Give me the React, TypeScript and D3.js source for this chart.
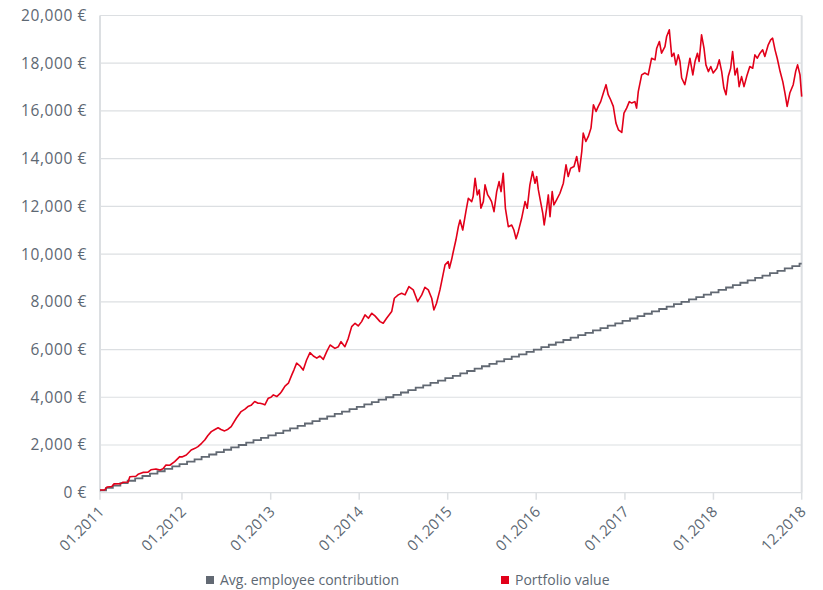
import React from "react";
import * as d3 from "d3";

const yTickValues = [0, 2000, 4000, 6000, 8000, 10000, 12000, 14000, 16000, 18000, 20000];
const xTickDates = ["2011-01-28", "2012-01-01", "2013-01-01", "2014-01-01", "2015-01-01", "2016-01-01", "2017-01-01", "2018-01-01", "2018-12-31"];
const xTickLabels = ["01.2011", "01.2012", "01.2013", "01.2014", "01.2015", "01.2016", "01.2017", "01.2018", "12.2018"];
const seriesNames = ["Avg. employee contribution", "Portfolio value"];
const seriesColors = ["#626973", "#e2001a"];

const contributionStart = "2011-01-22";
const contributionValues = [
  100, 200, 300, 400, 500, 600, 700, 800, 900, 1000, 1100, 1200,
  1300, 1400, 1500, 1600, 1700, 1800, 1900, 2000, 2100, 2200, 2300, 2400,
  2500, 2600, 2700, 2800, 2900, 3000, 3100, 3200, 3300, 3400, 3500, 3600,
  3700, 3800, 3900, 4000, 4100, 4200, 4300, 4400, 4500, 4600, 4700, 4800,
  4900, 5000, 5100, 5200, 5300, 5400, 5500, 5600, 5700, 5800, 5900, 6000,
  6100, 6200, 6300, 6400, 6500, 6600, 6700, 6800, 6900, 7000, 7100, 7200,
  7300, 7400, 7500, 7600, 7700, 7800, 7900, 8000, 8100, 8200, 8300, 8400,
  8500, 8600, 8700, 8800, 8900, 9000, 9100, 9200, 9300, 9400, 9500, 9600,
];

const portfolioSeries: [string, number][] = [
  ["2011-01-28",110],["2011-02-17",120],["2011-02-26",240],["2011-03-18",260],["2011-03-27",370],["2011-04-24",380],["2011-05-03",440],["2011-05-24",450],["2011-05-31",670],["2011-06-25",690],["2011-07-04",770],["2011-07-24",850],["2011-08-14",860],["2011-08-26",960],["2011-09-16",990],["2011-10-03",950],["2011-10-15",1000],["2011-10-27",1160],["2011-11-12",1150],["2011-12-02",1300],["2011-12-23",1510],
  ["2012-01-01",1500],["2012-01-19",1580],["2012-02-08",1790],["2012-02-24",1860],["2012-03-07",1930],["2012-03-22",2070],["2012-04-04",2210],["2012-04-17",2400],["2012-05-01",2560],["2012-05-16",2650],["2012-05-29",2720],["2012-06-10",2650],["2012-06-25",2590],["2012-07-09",2660],["2012-07-22",2770],["2012-08-12",3120],["2012-09-01",3400],["2012-09-17",3500],["2012-09-29",3610],["2012-10-12",3660],["2012-10-27",3820],["2012-11-10",3750],["2012-11-18",3750],["2012-11-30",3720],["2012-12-08",3680],["2012-12-22",3960],
  ["2013-01-02",4000],["2013-01-12",4100],["2013-01-26",4030],["2013-02-08",4150],["2013-02-15",4240],["2013-03-01",4470],["2013-03-15",4590],["2013-03-29",4940],["2013-04-07",5150],["2013-04-18",5430],["2013-05-02",5310],["2013-05-15",5140],["2013-05-29",5560],["2013-06-12",5870],["2013-06-26",5730],["2013-07-10",5640],["2013-07-23",5730],["2013-08-06",5590],["2013-08-20",5910],["2013-09-03",6190],["2013-09-23",6050],["2013-10-07",6120],["2013-10-18",6330],["2013-11-03",6120],["2013-11-17",6470],["2013-12-01",6960],["2013-12-15",7100],["2013-12-28",6990],
  ["2014-01-11",7170],["2014-01-25",7450],["2014-02-08",7310],["2014-02-22",7520],["2014-03-07",7410],["2014-03-28",7170],["2014-04-10",7100],["2014-04-24",7310],["2014-05-15",7590],["2014-05-26",8150],["2014-06-11",8290],["2014-06-25",8360],["2014-07-09",8290],["2014-07-25",8640],["2014-08-12",8500],["2014-08-30",8010],["2014-09-16",8290],["2014-09-29",8610],["2014-10-13",8500],["2014-10-27",8150],["2014-11-05",7660],["2014-11-16",7940],["2014-11-30",8500],["2014-12-07",8850],["2014-12-21",9550],
  ["2015-01-03",9690],["2015-01-08",9410],["2015-01-17",9760],["2015-01-24",10100],["2015-02-04",10600],["2015-02-14",11150],["2015-02-21",11430],["2015-03-04",11010],["2015-03-17",11780],["2015-03-27",12340],["2015-04-10",12200],["2015-04-16",12410],["2015-04-24",13180],["2015-05-03",12480],["2015-05-11",12690],["2015-05-18",11920],["2015-05-28",12200],["2015-06-04",12900],["2015-06-15",12480],["2015-06-24",12340],["2015-07-01",12200],["2015-07-11",11780],["2015-07-22",12620],["2015-08-01",13040],["2015-08-09",12620],["2015-08-18",13390],["2015-08-27",11920],["2015-09-08",11150],["2015-09-22",11220],["2015-10-01",11010],["2015-10-10",10640],["2015-10-19",10940],["2015-11-02",11500],["2015-11-16",12200],["2015-11-25",11920],["2015-12-06",12900],["2015-12-17",13460],["2015-12-27",12970],
  ["2016-01-03",13250],["2016-01-10",12690],["2016-01-19",12200],["2016-01-28",11720],["2016-02-03",11220],["2016-02-13",11920],["2016-02-20",12480],["2016-02-27",11570],["2016-03-07",12620],["2016-03-14",12060],["2016-03-25",12270],["2016-04-08",12550],["2016-04-22",12970],["2016-05-03",13740],["2016-05-12",13250],["2016-05-22",13600],["2016-06-05",13670],["2016-06-16",14090],["2016-06-27",13460],["2016-07-07",14300],["2016-07-13",15070],["2016-07-24",14720],["2016-08-03",14930],["2016-08-14",15280],["2016-08-24",16260],["2016-09-04",15980],["2016-09-13",16190],["2016-09-23",16390],["2016-10-04",16750],["2016-10-15",17100],["2016-10-24",16680],["2016-11-03",16470],["2016-11-14",16190],["2016-11-25",15490],["2016-12-05",15210],["2016-12-19",15100],["2016-12-28",15910],
  ["2017-01-08",16120],["2017-01-19",16390],["2017-01-29",16330],["2017-02-11",16390],["2017-02-18",16120],["2017-02-25",16810],["2017-03-11",17510],["2017-03-24",17590],["2017-04-07",17510],["2017-04-21",18210],["2017-05-05",18140],["2017-05-12",18630],["2017-05-23",18910],["2017-06-01",18420],["2017-06-15",18700],["2017-06-22",19120],["2017-07-03",19400],["2017-07-13",18280],["2017-07-22",18420],["2017-07-30",17930],["2017-08-09",18350],["2017-08-16",18070],["2017-08-23",17380],["2017-09-05",17100],["2017-09-12",17440],["2017-09-26",18210],["2017-10-08",17510],["2017-10-17",18070],["2017-10-27",18420],["2017-11-03",18070],["2017-11-13",19190],["2017-11-23",18630],["2017-12-01",17930],["2017-12-11",17650],["2017-12-21",17860],["2017-12-31",17590],
  ["2018-01-15",17790],["2018-01-25",18140],["2018-02-04",17650],["2018-02-13",16960],["2018-02-22",16680],["2018-03-03",17440],["2018-03-13",17790],["2018-03-21",18490],["2018-03-31",17510],["2018-04-09",17790],["2018-04-17",17020],["2018-04-27",17440],["2018-05-07",17020],["2018-05-18",17440],["2018-05-31",17860],["2018-06-12",17790],["2018-06-21",18350],["2018-07-01",18210],["2018-07-12",18420],["2018-07-23",18560],["2018-08-01",18280],["2018-08-15",18770],["2018-08-25",18980],["2018-09-02",19050],["2018-09-12",18560],["2018-09-21",18210],["2018-10-03",17650],["2018-10-14",17230],["2018-10-23",16750],["2018-11-01",16190],["2018-11-12",16750],["2018-11-26",17100],["2018-12-06",17650],["2018-12-14",17930],["2018-12-24",17510],["2018-12-31",16600],
];

const W = 823;
const H = 590;
const plot = { left: 100, right: 801.7, top: 15.5, bottom: 492.7 };
const FONT = "'Open Sans', sans-serif";
const TEXT = "#5d6873";
const GRID = "#dcdfe2";

export default function App() {
  const parse = d3.timeParse("%Y-%m-%d");
  const tickDates = xTickDates.map((s) => parse(s) as Date);
  const x = d3
    .scaleTime()
    .domain([tickDates[0], tickDates[tickDates.length - 1]])
    .range([plot.left, plot.right])
    .clamp(true);
  const y = d3.scaleLinear().domain([0, 20000]).range([plot.bottom, plot.top]);

  const cStart = parse(contributionStart) as Date;
  const contribData: [Date, number][] = contributionValues.map((v, i) => [d3.timeMonth.offset(cStart, i), v]);
  contribData.push([x.domain()[1], contributionValues[contributionValues.length - 1]]);

  const portData: [Date, number][] = portfolioSeries.map(([d, v]) => [parse(d) as Date, v]);

  const stepLine = d3
    .line<[Date, number]>()
    .x((d) => x(d[0]))
    .y((d) => y(d[1]))
    .curve(d3.curveStepAfter);
  const line = d3
    .line<[Date, number]>()
    .x((d) => x(d[0]))
    .y((d) => y(d[1]));

  const fmt = d3.format(",");

  const legendItems = [
    { name: seriesNames[0], color: seriesColors[0], x: 206 },
    { name: seriesNames[1], color: seriesColors[1], x: 501 },
  ];

  return (
    <svg
      width={W}
      height={H}
      style={{ position: "absolute", left: 0, top: 0, background: "#fff" }}
      fontFamily={FONT}
    >
      {yTickValues.map((v) => (
        <line key={"g" + v} x1={plot.left} x2={plot.right} y1={y(v)} y2={y(v)} stroke={GRID} strokeWidth={1.2} />
      ))}
      <line x1={plot.left} x2={plot.left} y1={plot.top} y2={plot.bottom} stroke={GRID} strokeWidth={2} />
      <line x1={plot.right} x2={plot.right} y1={plot.top} y2={plot.bottom} stroke={GRID} strokeWidth={2} />
      {tickDates.map((d, i) => (
        <line key={"t" + i} x1={x(d)} x2={x(d)} y1={plot.bottom} y2={plot.bottom + 7} stroke={GRID} strokeWidth={1.5} />
      ))}
      {yTickValues.map((v) => (
        <text
          key={"yl" + v}
          x={87}
          y={y(v)}
          dy="0.35em"
          textAnchor="end"
          fontSize={15.5}
          letterSpacing={0.6}
          fill={TEXT}
        >
          {fmt(v) + " €"}
        </text>
      ))}
      {tickDates.map((d, i) => (
        <text
          key={"xl" + i}
          transform={`translate(${x(d) + 5},${plot.bottom + 20}) rotate(-45)`}
          textAnchor="end"
          fontSize={15}
          fill={TEXT}
        >
          {xTickLabels[i]}
        </text>
      ))}
      <path d={stepLine(contribData) || ""} fill="none" stroke={seriesColors[0]} strokeWidth={1.8} />
      <path d={line(portData) || ""} fill="none" stroke={seriesColors[1]} strokeWidth={1.6} strokeLinejoin="round" />
      {legendItems.map((it) => (
        <g key={it.name}>
          <rect x={it.x} y={576} width={8} height={8} fill={it.color} />
          <text x={it.x + 14} y={580} dy="0.35em" fontSize={14} fill={TEXT}>
            {it.name}
          </text>
        </g>
      ))}
    </svg>
  );
}
